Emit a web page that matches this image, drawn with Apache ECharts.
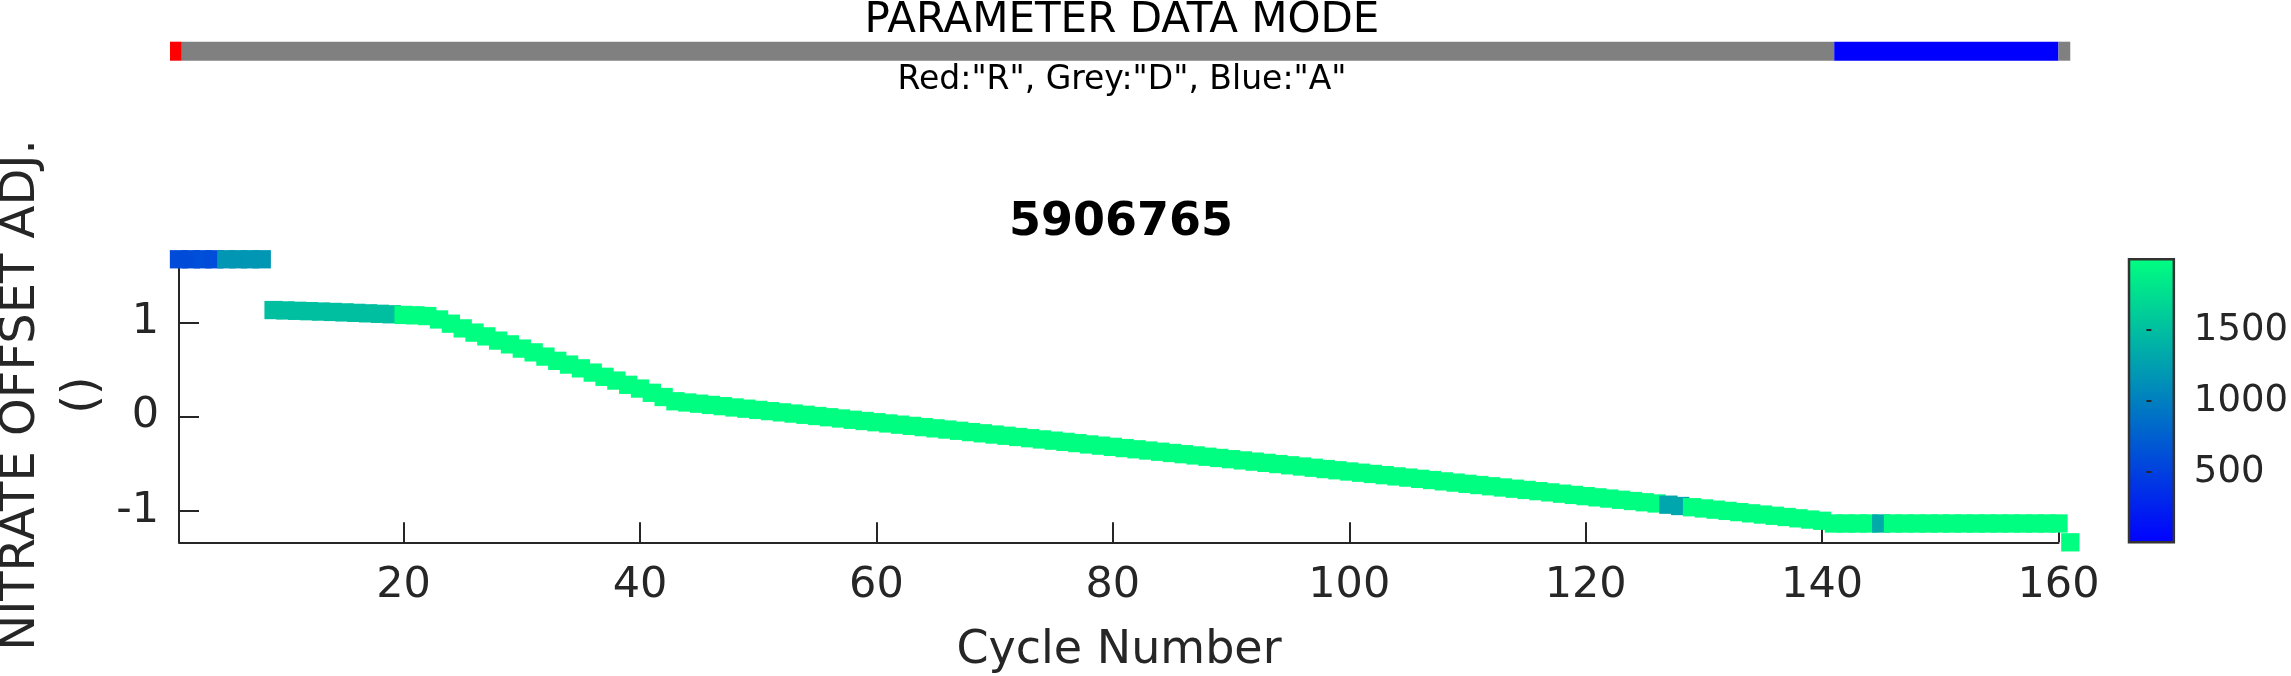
<!DOCTYPE html>
<html>
<head>
<meta charset="utf-8">
<script src="https://cdn.jsdelivr.net/npm/echarts@6/dist/echarts.min.js"></script>
<style>
html,body{margin:0;padding:0;background:#ffffff;}
#c{width:2291px;height:676px;}
</style>
</head>
<body>
<div id="c"></div>
<script>
// ---------------- DATA ----------------
const cycles = [
  1,2,3,4,5,6,7,8,9,10,
  11,12,13,14,15,16,17,18,19,20,
  21,22,23,24,25,26,27,28,29,30,
  31,32,33,34,35,36,37,38,39,40,
  41,42,43,44,45,46,47,48,49,50,
  51,52,53,54,55,56,57,58,59,60,
  61,62,63,64,65,66,67,68,69,70,
  71,72,73,74,75,76,77,78,79,80,
  81,82,83,84,85,86,87,88,89,90,
  91,92,93,94,95,96,97,98,99,100,
  101,102,103,104,105,106,107,108,109,110,
  111,112,113,114,115,116,117,118,119,120,
  121,122,123,124,125,126,127,128,129,130,
  131,132,133,134,135,136,137,138,139,140,
  141,142,143,144,145,146,147,148,149,150,
  151,152,153,154,155,156,157,158,159,160,
  161
];

const nitrateOffsetAdj = [
  1.67,1.67,1.67,1.67,1.67,1.67,1.67,1.67,1.13,1.126,
  1.122,1.118,1.114,1.11,1.105,1.1,1.095,1.09,1.085,1.078,
  1.074,1.066,1.03,0.985,0.935,0.89,0.85,0.805,0.765,0.72,
  0.68,0.635,0.59,0.55,0.51,0.465,0.42,0.38,0.335,0.295,
  0.25,0.205,0.16,0.147,0.134,0.121,0.108,0.094,0.081,0.068,
  0.055,0.042,0.029,0.016,0.003,-0.010,-0.023,-0.037,-0.050,-0.063,
  -0.076,-0.089,-0.102,-0.115,-0.128,-0.141,-0.154,-0.168,-0.181,-0.194,
  -0.207,-0.220,-0.233,-0.246,-0.259,-0.272,-0.285,-0.299,-0.312,-0.325,
  -0.338,-0.351,-0.364,-0.377,-0.390,-0.403,-0.416,-0.430,-0.443,-0.456,
  -0.469,-0.482,-0.495,-0.508,-0.521,-0.534,-0.547,-0.561,-0.574,-0.587,
  -0.600,-0.613,-0.626,-0.639,-0.652,-0.665,-0.678,-0.692,-0.705,-0.718,
  -0.731,-0.744,-0.757,-0.770,-0.783,-0.796,-0.809,-0.823,-0.836,-0.849,
  -0.862,-0.875,-0.888,-0.901,-0.914,-0.927,-0.940,-0.954,-0.967,-0.980,
  -0.993,-1.006,-1.019,-1.032,-1.045,-1.058,-1.071,-1.085,-1.098,-1.111,
  -1.14,-1.14,-1.14,-1.14,-1.14,-1.14,-1.14,-1.14,-1.14,-1.14,
  -1.14,-1.14,-1.14,-1.14,-1.14,-1.14,-1.14,-1.14,-1.14,-1.14,
  -1.34
];

const pressure = [
  600,600,620,610,1180,1180,1180,1180,1500,1500,
  1500,1500,1500,1500,1500,1500,1500,1500,1500,1990,
  1990,1990,1990,1990,1990,1990,1990,1990,1990,1990,
  1990,1990,1990,1990,1990,1990,1990,1990,1990,1990,
  1990,1990,1990,1990,1990,1990,1990,1990,1990,1990,
  1990,1990,1990,1990,1990,1990,1990,1990,1990,1990,
  1990,1990,1990,1990,1990,1990,1990,1990,1990,1990,
  1990,1990,1990,1990,1990,1990,1990,1990,1990,1990,
  1990,1990,1990,1990,1990,1990,1990,1990,1990,1990,
  1990,1990,1990,1990,1990,1990,1990,1990,1990,1990,
  1990,1990,1990,1990,1990,1990,1990,1990,1990,1990,
  1990,1990,1990,1990,1990,1990,1990,1990,1990,1990,
  1990,1990,1990,1990,1990,1990,1300,1300,1990,1990,
  1990,1990,1990,1990,1990,1990,1990,1990,1990,1990,
  1990,1990,1990,1990,1340,1990,1990,1990,1990,1990,
  1990,1990,1990,1990,1990,1990,1990,1990,1990,1990,
  1990
];

// data mode runs: [mode, first cycle, last cycle]
const dataModeRuns = [['R',1,1],['D',2,141],['A',142,160],['D',161,161]];
const modeColors = {R:'#ff0000', D:'#808080', A:'#0000ff'};

const xTicks = [20,40,60,80,100,120,140,160];
const yTicks = [-1,0,1];
const cbTicks = [500,1000,1500];
const P_MIN = 7, P_MAX = 1998;

// ---------------- CHART ----------------
const INK = '#262626';
const FONT = '"DejaVu Sans", sans-serif';
const chart = echarts.init(document.getElementById('c'), null, {renderer:'canvas'});

function txt(x, y, text, size, opts) {
  opts = opts || {};
  return {
    type:'text', x:x, y:y, rotation: opts.rotation || 0, silent:true,
    style:{
      text:text, fill: opts.color || INK,
      font: (opts.bold ? 'bold ' : '') + size + 'px ' + FONT,
      textAlign:'center', textVerticalAlign:'middle',
      align:'center', verticalAlign:'middle'
    }
  };
}

const option = {
  animation:false,
  backgroundColor:'#ffffff',
  textStyle:{fontFamily:FONT},
  grid:[
    {left:179, top:268.3, width:1879.5, height:274},
    {left:170, top:41.7, width:1907, height:19},
    {left:2129, top:259.3, width:51, height:283}
  ],
  xAxis:[
    {gridIndex:0, type:'value', min:1, max:160,
     axisLine:{show:true, onZero:false, lineStyle:{color:INK, width:2}},
     axisTick:{show:true, inside:true, length:20, customValues:xTicks, lineStyle:{color:INK, width:2}},
     axisLabel:{show:true, customValues:xTicks, fontSize:43, color:INK, margin:22, fontFamily:FONT},
     splitLine:{show:false}},
    {gridIndex:1, type:'value', min:0.5, max:162.07, show:false},
    {gridIndex:2, type:'value', min:-0.5, max:0.5, show:false}
  ],
  yAxis:[
    {gridIndex:0, type:'value', min:-1.34, max:1.574,
     axisLine:{show:true, onZero:false, lineStyle:{color:INK, width:2}},
     axisTick:{show:true, inside:true, length:20, customValues:yTicks, lineStyle:{color:INK, width:2}},
     axisLabel:{show:true, customValues:yTicks, fontSize:43, color:INK, margin:20, fontFamily:FONT},
     splitLine:{show:false}},
    {gridIndex:1, type:'value', min:0, max:1, show:false},
    {gridIndex:2, type:'value', min:P_MIN, max:P_MAX, position:'right', z:10,
     axisLine:{show:false},
     axisTick:{show:true, inside:true, length:5, customValues:cbTicks, lineStyle:{color:INK, width:2}},
     axisLabel:{show:true, customValues:cbTicks, fontSize:37, color:INK, margin:20, fontFamily:FONT,
                formatter:function(v){ return String(v); }},
     splitLine:{show:false}}
  ],
  visualMap:{
    type:'continuous', show:false, min:P_MIN, max:P_MAX, dimension:2, seriesIndex:0,
    inRange:{color:['#0000ff','#00ff80']}
  },
  series:[
    {
      type:'scatter', xAxisIndex:0, yAxisIndex:0,
      data: cycles.map((c,i)=>[c, nitrateOffsetAdj[i], pressure[i]]),
      symbol:'rect', symbolSize:18.3, clip:false, silent:true,
      itemStyle:{opacity:1}, z:3
    },
    {
      type:'custom', xAxisIndex:1, yAxisIndex:1, silent:true,
      data: dataModeRuns.map(r=>[r[1], r[2]]),
      renderItem:function(params, api){
        const run = dataModeRuns[params.dataIndex];
        const p0 = api.coord([api.value(0) - 0.5, 1]);
        const p1 = api.coord([api.value(1) + 0.5, 0]);
        return {type:'rect', shape:{x:p0[0], y:p0[1], width:p1[0]-p0[0], height:p1[1]-p0[1]},
                style:{fill:modeColors[run[0]]}};
      }
    },
    {
      type:'custom', xAxisIndex:2, yAxisIndex:2, silent:true, z:1,
      data:[[0, P_MIN, P_MAX]],
      renderItem:function(params, api){
        const p0 = api.coord([-0.5, api.value(2)]);
        const p1 = api.coord([0.5, api.value(1)]);
        return {type:'rect', shape:{x:p0[0], y:p0[1], width:p1[0]-p0[0], height:p1[1]-p0[1]},
                style:{
                  fill:new echarts.graphic.LinearGradient(0,0,0,1,[{offset:0,color:'#00ff80'},{offset:1,color:'#0000ff'}]),
                  stroke:'#333333', lineWidth:2.5
                }};
      }
    }
  ],
  graphic:[
    txt(1122, 21, 'PARAMETER DATA MODE', 42, {color:'#000000'}),
    txt(1122, 80, 'Red:"R", Grey:"D", Blue:"A"', 33, {color:'#000000'}),
    txt(1121, 223, '5906765', 46, {bold:true, color:'#000000'}),
    txt(1119, 651, 'Cycle Number', 46),
    txt(22, 395, 'NITRATE OFFSET ADJ.', 48, {rotation:Math.PI/2}),
    txt(84, 395, '()', 48, {rotation:Math.PI/2})
  ]
};
chart.setOption(option);
</script>
</body>
</html>
